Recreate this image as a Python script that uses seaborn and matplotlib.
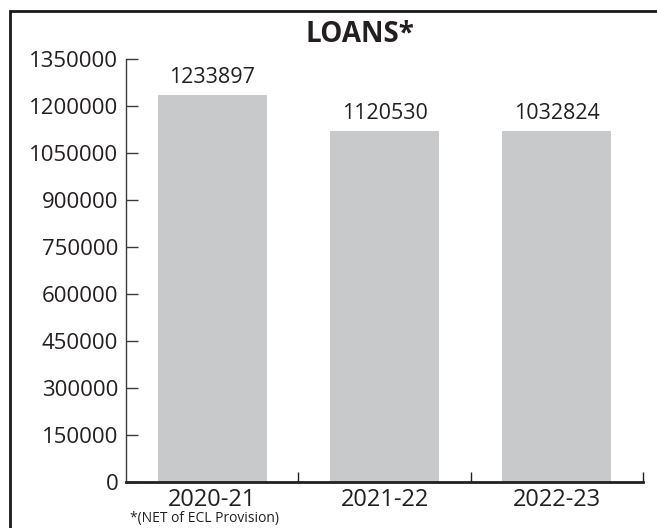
import matplotlib
matplotlib.use("Agg")
import matplotlib.pyplot as plt
import seaborn as sns
import pandas as pd
from matplotlib.patches import Rectangle
from matplotlib.ticker import FixedLocator

years = ["2020-21", "2021-22", "2022-23"]
bar_heights = [1233897, 1120530, 1120530]
value_labels = ["1233897", "1120530", "1032824"]
y_ticks = [0, 150000, 300000, 450000, 600000, 750000, 900000, 1050000, 1200000, 1350000]

sns.set_theme(style="white")
plt.rcParams["font.family"] = ["Open Sans", "DejaVu Sans"]
TXT = "#231f20"

W, H = 657, 528
fig = plt.figure(figsize=(W / 100, H / 100), dpi=100)
ax = fig.add_axes([126 / W, 1 - 482 / H, (643 - 126) / W, (482 - 59) / H])

df = pd.DataFrame({"year": years, "value": bar_heights})
sns.barplot(data=df, x="year", y="value", color="#c8c9cb", saturation=1,
            width=0.634, ax=ax, edgecolor="none")

ax.set_xlim(-0.5, 2.5)
ax.set_ylim(0, 1350000)
ax.set_yticks(y_ticks)
ax.set_yticklabels([str(v) for v in y_ticks])
ax.set_xlabel("")
ax.set_ylabel("")

for s in ["top", "right"]:
    ax.spines[s].set_visible(False)
ax.spines["left"].set_color("#3a3a3a")
ax.spines["left"].set_linewidth(1.0)
ax.spines["bottom"].set_color(TXT)
ax.spines["bottom"].set_linewidth(2.0)

ax.tick_params(axis="y", direction="in", length=8.6, width=1.0, color="#3a3a3a",
               pad=5.5, labelsize=16, labelcolor=TXT, left=True)
ax.tick_params(axis="x", which="major", length=0, pad=4, labelsize=17, labelcolor=TXT)
ax.xaxis.set_minor_locator(FixedLocator([0.5, 1.5, 2.5]))
ax.tick_params(axis="x", which="minor", direction="in", length=7.2, width=1.0,
               color=TXT, bottom=True)

for i, (h, lab) in enumerate(zip(bar_heights, value_labels)):
    ax.annotate(lab, (i, h), xytext=(0, 5), textcoords="offset points",
                ha="center", va="bottom", fontsize=15.5, color=TXT)

fig.text(360 / W, 1 - 35 / H, "LOANS*", ha="center", va="center",
         fontsize=20, fontweight="bold", color=TXT)
fig.text(130 / W, 1 - 511 / H, "*(NET of ECL Provision)", ha="left", va="top",
         fontsize=10, color=TXT)

fig.patches.append(Rectangle((10 / W, -0.2), 1.2, 1.2 - 11 / H, transform=fig.transFigure,
                             fill=False, edgecolor="#1a1a1a", linewidth=2.0))

fig.savefig("out.png", dpi=100)
